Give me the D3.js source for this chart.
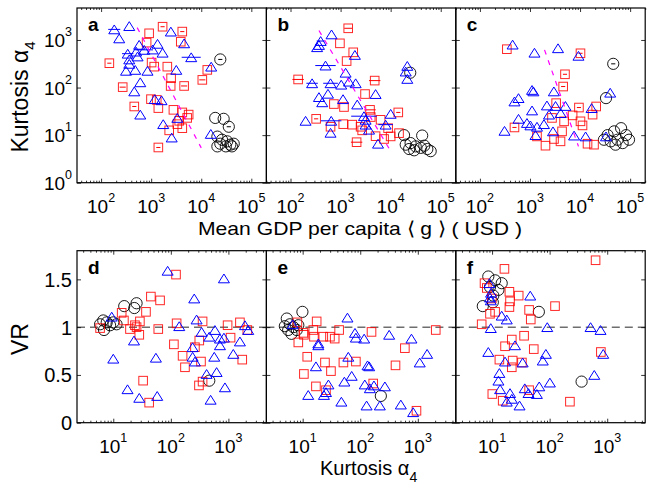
<!DOCTYPE html>
<html><head><meta charset="utf-8">
<script src="https://cdn.jsdelivr.net/npm/d3@7"></script>
<style>
body{margin:0;background:#fff}
svg{display:block}
text{font-family:"Liberation Sans",Arial,Helvetica,sans-serif;fill:#000}
</style>
</head><body>
<svg id="c" width="647" height="485"></svg>
<script>
// ---------- tick labels ----------
const gdpTicks=[100,1000,10000,100000];
const kurtTicksTop=[1,10,100,1000];
const kurtTicksBottom=[10,100,1000];
const vrTicks=[0,0.5,1,1.5];
const panelLetters=["a","b","c","d","e","f"];
const xLabelTop="Mean GDP per capita \u27E8 g \u27E9 ( USD )";
const yLabelTop="Kurtosis \u03B1";
const yLabelBottom="VR";
const xLabelBottom="Kurtosis \u03B1";

// ---------- panel a : [GDP, kurtosis, error factor] ----------
const aTri=[[183,1670,1.32],[365,1960],[230,1080],[2470,1500],[4550,850],[575,790],[1340,830],[725,620,1.5],[500,570],[1070,630],[1690,540],[340,515,1.3],[535,450],[365,390],[365,315],[315,225],[480,235],[845,225],[3170,235],[6300,433,1.55],[15800,275],[605,129],[460,83],[605,27],[1180,57],[1610,54],[1740,17],[3330,23],[2570,8.9],[15500,10.6]];
const aSq=[[146,325,1.1],[270,102,1.15],[460,40,1.1],[910,1380],[1690,1900,1.1],[4180,1500,1.1],[3900,920],[810,880],[1020,335],[1150,275],[2100,275],[2500,157],[2450,108],[4550,108,1.15],[10500,145,1.15],[13200,235],[990,57],[1390,37],[1290,55],[2780,34],[4180,30],[5600,27],[5230,23],[3630,20],[2290,12.6],[4180,14],[3330,17],[1390,5.5,1.1]];
const aCir=[[24000,390,1.1],[19000,23],[28000,22],[35500,15,1.1],[21000,9.3],[26000,8],[33000,7.4],[24000,6.6],[38000,6.3],[44500,6.6],[21000,5.8],[31000,5.8],[41000,5.8]];
const aFit=[[525,1820],[10000,5.4]];

// ---------- panel b ----------
const bTri=[[660,1310],[400,950,1.2],[370,785],[340,705],[1930,485],[500,290,1.6],[1260,205],[21500,285],[20000,217],[21500,152],[270,123,1.3],[630,123,1.4],[1470,133],[2000,123],[1030,115],[560,74],[370,63],[430,49],[1120,57],[5000,73],[2150,44],[200,20],[650,20,1.6],[630,11.2],[2930,25,1.8],[10000,28],[7940,16.6,1.4],[3160,16.6],[3160,21],[5600,6.6],[3700,13]];
const bSq=[[1420,1760,1.2],[970,850],[1790,550],[1320,360],[142,148,1.3],[4800,140,1.3],[3080,73],[735,45],[1170,39],[325,22,1.1],[630,15],[1130,17],[1710,16.6],[2510,15],[2700,12.6],[3870,34,1.3],[4000,24],[6300,21],[14200,30,1.1],[5000,9.5],[7400,8.3],[10000,9.4],[14700,11],[8900,14],[2090,7.1,1.3]];
const bCir=[[24600,205],[18500,10],[42600,9.8],[25000,6.8],[31600,5.8],[40000,5.4],[54000,5.1],[23400,5.1],[29500,4.8],[47000,6],[63000,4.6],[20000,6.3]];
const bFit=[[370,1580],[10000,4.6]];

// ---------- panel c ----------
const cTri=[[450,800],[1230,540],[3630,670],[9300,465],[40000,78],[1100,89],[1170,83],[3000,83],[590,60],[490,51],[1100,33],[2180,42],[5100,41],[2400,27],[17000,37],[590,22],[870,18],[1020,16],[1380,15],[1900,17],[310,12.3],[2880,12],[7600,9.8],[12900,9.4],[33000,9.4],[1290,10],[4100,29],[3240,41]];
const cSq=[[345,640],[10200,525,1.1],[5000,190,1.1],[4600,105,1.1],[3330,47],[9500,38,1.1],[21000,40],[17800,27],[7100,26],[4800,19.5],[10200,19.5],[11200,16],[490,14.5,1.1],[1380,9.4],[2040,6],[3020,8.3],[4070,7.4],[4370,12],[14100,6.6],[19000,6.3],[2750,23]];
const cCir=[[46000,315,1.1],[33000,60],[35500,10],[48000,12],[66000,14],[83000,10],[56000,8],[95000,8],[41000,7.4],[71000,6.8],[51000,6.3],[30000,8]];
const cFit=[[1950,620],[9300,5.8]];

// ---------- panel d : [kurtosis, VR] ----------
const dTri=[[88,1.59],[836,1.51],[255,1.30],[280,1.08],[140,1.01],[9.4,1.11],[342,0.95],[583,0.97],[465,0.90],[713,0.88],[836,0.89],[1940,1.02],[2210,0.97],[1585,0.85],[713,0.81],[239,0.79],[1216,0.72],[568,0.69],[239,0.69],[262,0.64],[22.9,0.86],[10,0.67],[55,0.68],[418,0.51],[624,0.53],[871,0.37],[17.7,0.35],[28.3,0.26],[58,0.28],[491,0.24]];
const dSq=[[123,1.55],[45,1.32],[65,1.28],[37,1.16],[14,1.15],[15.3,1.07],[29,1.06],[23.8,1.02],[19.5,0.98],[25.4,1.0],[28.3,0.92],[5.9,0.99],[60.5,0.98],[126,1.04],[356,1.06],[968,1.02],[1585,1.05],[2130,0.97],[1090,0.89],[312,0.86],[113,0.82],[160,0.70],[176,0.58],[262,0.79],[334,0.64],[1740,0.66],[33,0.44],[308,0.39],[356,0.43],[42,0.21]];
const dCir=[[15.5,1.22],[23.2,1.20],[25.4,1.25],[6.7,1.07],[7.7,1.05],[10,1.05],[11.4,1.03],[6.9,0.97],[5.9,1.03],[8.8,1.02],[465,0.44]];

// ---------- panel e ----------
const eTri=[[60,1.10],[6.7,1.03],[18.7,0.83],[18.7,0.81],[81,0.94],[84,0.89],[117,0.88],[318,0.92],[776,0.88],[1450,0.72],[1080,0.63],[62,0.69],[17,0.59],[134,0.60],[143,0.59],[71,0.49],[53,0.43],[28,0.40],[25.4,0.32],[23.4,0.29],[120,0.40],[147,0.36],[173,0.39],[268,0.38],[12.5,0.29],[47,0.22],[129,0.18],[219,0.18],[507,0.19],[830,0.11]];
const eSq=[[17.5,1.06],[8.1,1.05],[15.3,0.97],[43,0.97],[157,0.95],[2050,0.97],[10.5,0.92],[15.7,0.90],[22.8,0.90],[29.8,0.90],[36,0.88],[8.4,0.84],[596,0.78],[12,0.69],[24.4,0.63],[51,0.63],[84,0.64],[410,0.60],[31,0.54],[10.5,0.51],[17,0.38],[25.4,0.34],[168,0.41],[948,0.125],[10.3,0.94]];
const eCir=[[9.9,1.16],[5.3,1.09],[6.0,1.03],[5.6,0.97],[6.4,0.93],[7.9,0.97],[6.9,1.0],[4.9,1.01],[8.4,1.02],[228,0.28]];

// ---------- panel f ----------
const fTri=[[9,1.46],[9.6,1.36],[9.2,1.31],[9.5,1.28],[46,1.33],[14.7,1.12],[18,1.08],[9.5,0.99],[91,1.0],[514,1.0],[766,0.97],[853,0.72],[8.6,0.74],[25,0.81],[86,0.72],[76,0.65],[16.8,0.64],[34,0.63],[13.4,0.52],[12.9,0.44],[13.8,0.35],[101,0.42],[66,0.38],[596,0.50],[37,0.36],[43,0.31],[60,0.30],[20.5,0.31],[22,0.25],[18,0.22],[30,0.18]];
const fSq=[[16.4,1.61],[628,1.70],[7.4,1.46],[8.1,1.41],[9.9,1.30],[20,1.37],[29,1.33],[20.5,1.27],[20,1.21],[11.3,1.16],[9.2,1.14],[44,1.18],[47,1.08],[124,1.22],[6.6,1.03],[22,0.87],[36,0.91],[16.8,0.80],[53,0.77],[776,0.74],[13.4,0.66],[22.8,0.65],[33,0.63],[22,0.58],[44,0.34],[10.1,0.30],[15.3,0.23],[225,0.22]];
const fCir=[[8.6,1.53],[11.3,1.49],[14.7,1.46],[9.2,1.42],[12.9,1.39],[10.5,1.33],[6.9,1.22],[10.3,1.26],[65,1.16],[359,0.43]];

// ---------- layout ----------
const svg=d3.select("#c");
const cols=[77,266.4,455.8], W=189.4;
const rowTop={y:8,h:174.7}, rowBot={y:250.7,h:172};
const xTop=d3.scaleLog().domain([33,2e5]).range([0,W]);
const yTop=d3.scaleLog().domain([1,4700]).range([rowTop.h,0]);
const xBot=d3.scaleLog().domain([2.344,4571]).range([0,W]);
const yBot=d3.scaleLinear().domain([0,1.8]).range([rowBot.h,0]);

const BLUE="#0000ff", RED="#ff0000", BLACK="#000000", MAG="#ff00ff";

function minorTicks(scale){
  const [a,b]=scale.domain(); const out=[];
  for(let k=Math.floor(Math.log10(a));k<=Math.ceil(Math.log10(b));k++){
    for(let m=2;m<=9;m++){const v=m*Math.pow(10,k); if(v>=a&&v<=b) out.push(v);}
  }
  return out;
}
const triPath=d3.symbol().type({draw(ctx){const w=5.5,h=4.4;ctx.moveTo(0,-h);ctx.lineTo(w,h);ctx.lineTo(-w,h);ctx.closePath();}})();

const panels=[
 {col:0,top:true,tri:aTri,sq:aSq,cir:aCir,fit:aFit},
 {col:1,top:true,tri:bTri,sq:bSq,cir:bCir,fit:bFit},
 {col:2,top:true,tri:cTri,sq:cSq,cir:cCir,fit:cFit},
 {col:0,top:false,tri:dTri,sq:dSq,cir:dCir},
 {col:1,top:false,tri:eTri,sq:eSq,cir:eCir},
 {col:2,top:false,tri:fTri,sq:fSq,cir:fCir}
];

panels.forEach((p,i)=>{
  const row=p.top?rowTop:rowBot;
  const x=p.top?xTop:xBot, y=p.top?yTop:yBot;
  const g=svg.append("g").attr("transform",`translate(${cols[p.col]},${row.y})`);
  const H=row.h;

  if(!p.top){
    g.append("line").attr("x1",0).attr("x2",W).attr("y1",y(1)).attr("y2",y(1))
     .attr("stroke","#6e6e6e").attr("stroke-width",1.5).attr("stroke-dasharray","8,5");
  }

  const drawErr=(data,color)=>{
    g.append("g").selectAll("line").data(data.filter(d=>d[2])).join("line")
     .attr("x1",d=>x(d[0]/d[2])).attr("x2",d=>x(d[0]*d[2]))
     .attr("y1",d=>y(d[1])).attr("y2",d=>y(d[1]))
     .attr("stroke",color).attr("stroke-width",1);
  };
  drawErr(p.cir,BLACK);
  g.append("g").selectAll("circle").data(p.cir).join("circle")
   .attr("cx",d=>x(d[0])).attr("cy",d=>y(d[1])).attr("r",5.6)
   .attr("fill","none").attr("stroke",BLACK).attr("stroke-width",0.9);
  drawErr(p.sq,RED);
  g.append("g").selectAll("rect").data(p.sq).join("rect")
   .attr("x",d=>x(d[0])-4.3).attr("y",d=>y(d[1])-4.3).attr("width",8.6).attr("height",8.6)
   .attr("fill","none").attr("stroke",RED).attr("stroke-width",1).attr("stroke-opacity",0.85);
  drawErr(p.tri,BLUE);
  g.append("g").selectAll("path").data(p.tri).join("path")
   .attr("d",triPath).attr("transform",d=>`translate(${x(d[0])},${y(d[1])})`)
   .attr("fill","none").attr("stroke",BLUE).attr("stroke-width",1);

  if(p.fit){
    g.append("path").datum(p.fit)
     .attr("d",d3.line().x(d=>x(d[0])).y(d=>y(d[1])))
     .attr("stroke",MAG).attr("stroke-width",1.2).attr("stroke-dasharray","5,6").attr("fill","none");
  }

  const xt=p.top?gdpTicks:kurtTicksBottom;
  const yt=p.top?kurtTicksTop:vrTicks;
  const tk=(axis)=>axis.tickFormat("").tickSizeOuter(0);
  const ax=[
    [d3.axisBottom(x).tickValues(xt).tickSizeInner(-4),`translate(0,${H})`],
    [d3.axisBottom(x).tickValues(minorTicks(x)).tickSizeInner(-2),`translate(0,${H})`],
    [d3.axisTop(x).tickValues(xt).tickSizeInner(-4),`translate(0,0)`],
    [d3.axisTop(x).tickValues(minorTicks(x)).tickSizeInner(-2),`translate(0,0)`],
    [d3.axisLeft(y).tickValues(yt).tickSizeInner(-4),`translate(0,0)`],
    [d3.axisRight(y).tickValues(yt).tickSizeInner(-4),`translate(${W},0)`]
  ];
  ax.forEach(([a,t])=>{
    const ag=g.append("g").attr("transform",t).call(tk(a));
    ag.select(".domain").remove();
    ag.selectAll("line").attr("stroke","#000").attr("stroke-width",0.8);
  });
  g.append("rect").attr("width",W).attr("height",H).attr("fill","none")
   .attr("stroke","#000").attr("stroke-width",1.2);

  xt.forEach(v=>{
    const t=g.append("text").attr("x",x(v)).attr("y",H+30).attr("text-anchor","middle").attr("font-size",19);
    t.append("tspan").text("10");
    t.append("tspan").attr("dy",-11).attr("font-size",12.5).text(Math.round(Math.log10(v)));
  });
  if(p.col===0){
    yt.forEach(v=>{
      if(p.top){
        const t=g.append("text").attr("x",-5).attr("y",y(v)+7).attr("text-anchor","end").attr("font-size",19);
        t.append("tspan").text("10");
        t.append("tspan").attr("dy",-11).attr("font-size",12.5).text(Math.round(Math.log10(v)));
      } else {
        g.append("text").attr("x",-5).attr("y",y(v)+7.5).attr("text-anchor","end").attr("font-size",20).text(v);
      }
    });
  }
  g.append("text").attr("x",11).attr("y",23).attr("font-size",19).attr("font-weight","bold").text(panelLetters[i]);
});

// axis labels
svg.append("text").attr("x",198).attr("y",235).attr("font-size",19)
   .attr("textLength",324).attr("lengthAdjust","spacingAndGlyphs").text(xLabelTop);
const xl=svg.append("text").attr("x",320).attr("y",475).attr("font-size",20);
xl.append("tspan").text(xLabelBottom);
xl.append("tspan").attr("dy",7).attr("font-size",14).text("4");
const yl=svg.append("text").attr("transform","translate(28,97) rotate(-90)").attr("text-anchor","middle").attr("font-size",23);
yl.append("tspan").text(yLabelTop);
yl.append("tspan").attr("dy",7).attr("font-size",15).text("4");
svg.append("text").attr("transform","translate(28,339) rotate(-90)").attr("text-anchor","middle").attr("font-size",23).text(yLabelBottom);
</script>
</body></html>
